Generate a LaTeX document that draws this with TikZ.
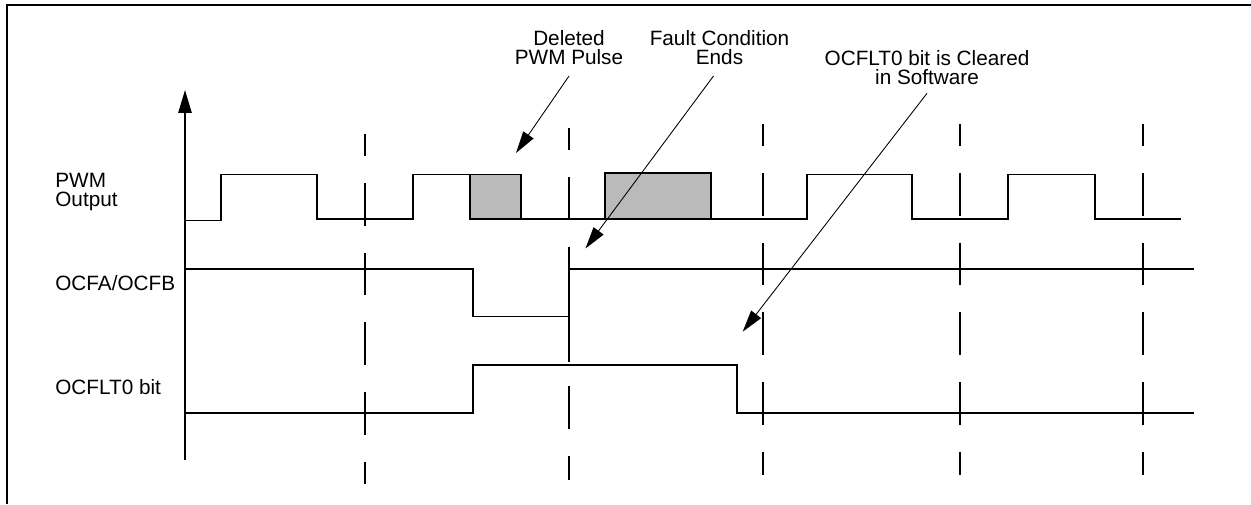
\documentclass[tikz,border=0pt]{standalone}
\usepackage{fontspec}
\setmainfont{Liberation Sans}
\usetikzlibrary{arrows.meta}
\definecolor{pulsegray}{gray}{0.73}
\begin{document}
\begin{tikzpicture}[x=0.02cm,y=-0.02cm,
    sig/.style={line width=1.1pt},
    tick/.style={line width=1.1pt,dash pattern=on 24.4pt off 15.3pt,dash phase=11.9pt},
    callout/.style={line width=0.5pt,-{Triangle[length=12.5pt,width=7pt]}},
    lbl/.style={font=\fontsize{11.8}{10.8}\selectfont,align=center,inner sep=0pt},
    note/.style={lbl,anchor=south,inner ysep=6.5pt}]

      \useasboundingbox (0,0) rectangle (1251,504);
      \draw[line width=1.2pt] (7,504) -- (7,4.7) -- (1251,4.7);

      \coordinate (ax0) at (185,460);
      \coordinate (ax1) at (185,90);
      \draw[sig,-{Triangle[length=13pt,width=7.5pt]}] (ax0) -- (ax1);

      \foreach \x/\ya/\yb in {365/134/484,569/128/480,763/124/475,960/124/475,1143/124/475}
        \draw[tick] (\x,\ya) -- (\x,\yb);

      \draw[sig,fill=pulsegray] (470,174.5) rectangle (521,219);
      \draw[sig,fill=pulsegray] (605,172.7) rectangle (711,219);
      \draw[sig] (185,220.5) -- (221,220.5) -- (221,174.5) -- (317,174.5) -- (317,219)
        -- (413,219) -- (413,174.5) -- (470,174.5) -- (470,219) -- (807,219)
        -- (807,174.5) -- (912,174.5) -- (912,219) -- (1008,219) -- (1008,174.5)
        -- (1095,174.5) -- (1095,219) -- (1181,219);

      \draw[sig] (185,269) -- (473,269) -- (473,316.5) -- (569,316.5);
      \draw[sig] (569,248) -- (569,362);
      \draw[sig] (569,269) -- (1194,269);

      \draw[sig] (185,412.7) -- (473,412.7) -- (473,365) -- (737,365) -- (737,412.7) -- (1194,412.7);

      \node[lbl,anchor=west,align=left] (pwm) at (55,192) {PWM\\Output};
      \node[lbl,anchor=west] (ocf) at (55,283) {OCFA/OCFB};
      \node[lbl,anchor=west] (flt) at (55,387) {OCFLT0 bit};

      \node[note] (del) at (569,76) {Deleted\\PWM Pulse};
      \node[note] (fce) at (719.5,76) {Fault Condition\\Ends};
      \node[note,inner ysep=4.5pt] (clr) at (927,93.3) {OCFLT0 bit is Cleared\\in Software};

      \coordinate (delTip) at (516,153);
      \coordinate (fceTip) at (585.5,248.5);
      \coordinate (clrTip) at (742.7,331.7);
      \draw[callout] (del.south) -- (delTip);
      \draw[callout] ([xshift=-0.12cm]fce.south) -- (fceTip);
      \draw[callout] (clr.south) -- (clrTip);
  \end{tikzpicture}
\end{document}
